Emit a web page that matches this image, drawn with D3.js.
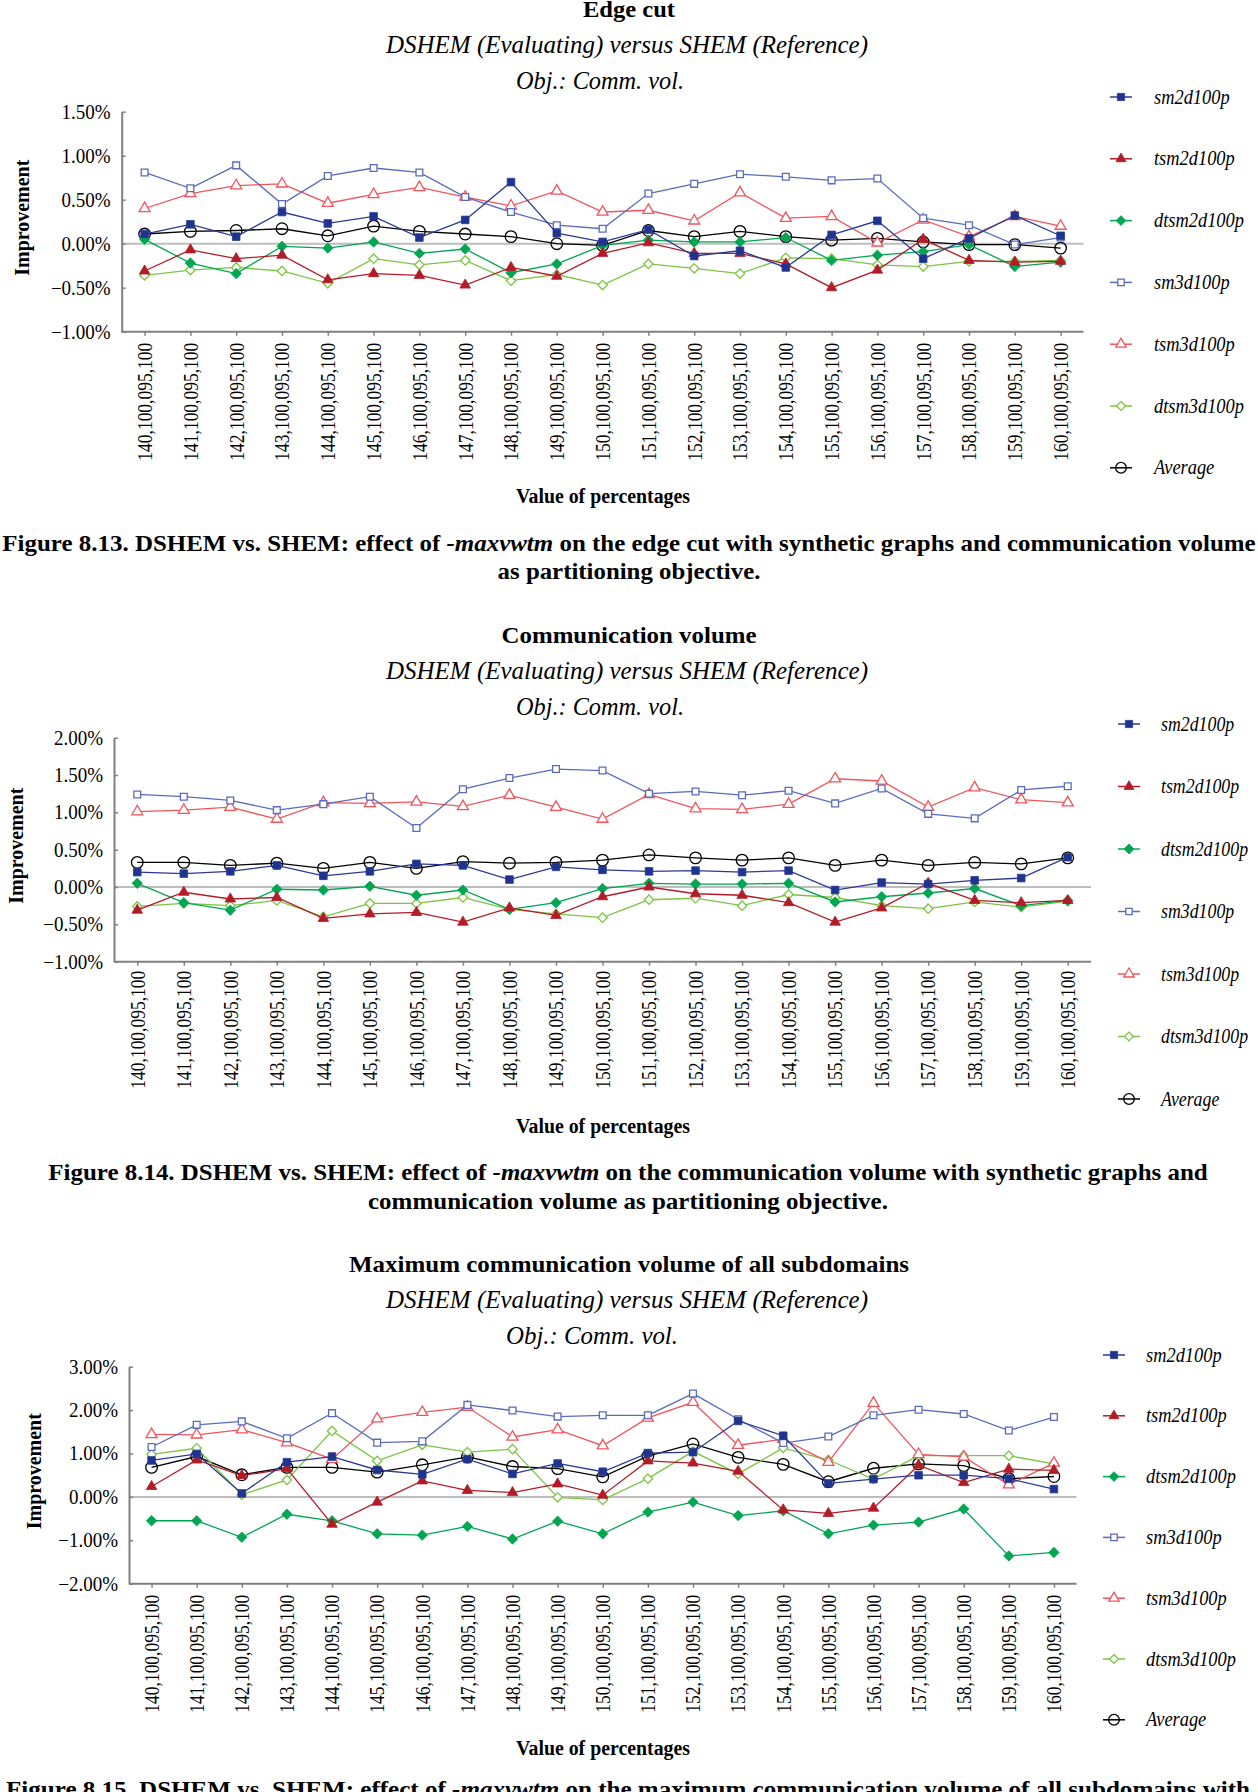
<!DOCTYPE html>
<html><head><meta charset="utf-8">
<script src="https://cdn.jsdelivr.net/npm/d3@7"></script>
<style>
body{margin:0;background:#fff}
svg{display:block}
text{font-family:"Liberation Serif","Times New Roman",serif;fill:#000}
</style>
</head><body>
<svg id="c" width="1258" height="1792"></svg>
<script>
// ---------- DATA ----------
const categories = ["140,100,095,100","141,100,095,100","142,100,095,100","143,100,095,100","144,100,095,100",
  "145,100,095,100","146,100,095,100","147,100,095,100","148,100,095,100","149,100,095,100","150,100,095,100",
  "151,100,095,100","152,100,095,100","153,100,095,100","154,100,095,100","155,100,095,100","156,100,095,100",
  "157,100,095,100","158,100,095,100","159,100,095,100","160,100,095,100"];
const seriesNames = ["sm2d100p","tsm2d100p","dtsm2d100p","sm3d100p","tsm3d100p","dtsm3d100p","Average"];

// Figure 8.13 - Edge cut (values in %)
const ec_sm2d   = [0.11,0.22,0.08,0.36,0.23,0.31,0.07,0.27,0.70,0.12,0.02,0.16,-0.14,-0.08,-0.27,0.10,0.26,-0.17,0.06,0.32,0.09];
const ec_tsm2d  = [-0.31,-0.07,-0.17,-0.13,-0.41,-0.34,-0.36,-0.47,-0.27,-0.37,-0.11,0.01,-0.11,-0.11,-0.23,-0.50,-0.30,0.05,-0.19,-0.21,-0.20];
const ec_dtsm2d = [0.05,-0.22,-0.34,-0.03,-0.05,0.02,-0.11,-0.06,-0.33,-0.23,-0.02,0.04,0.02,0.02,0.07,-0.19,-0.13,-0.09,-0.01,-0.26,-0.21];
const ec_sm3d   = [0.81,0.63,0.89,0.45,0.77,0.86,0.81,0.53,0.36,0.21,0.17,0.57,0.68,0.79,0.76,0.72,0.74,0.29,0.21,-0.01,0.07];
const ec_tsm3d  = [0.40,0.57,0.66,0.68,0.46,0.56,0.64,0.53,0.43,0.60,0.36,0.38,0.26,0.58,0.29,0.31,0.01,0.27,0.08,0.31,0.20];
const ec_dtsm3d = [-0.36,-0.30,-0.27,-0.31,-0.45,-0.17,-0.24,-0.19,-0.42,-0.35,-0.47,-0.23,-0.28,-0.34,-0.16,-0.17,-0.24,-0.26,-0.20,-0.20,-0.19];
const ec_avg    = [0.11,0.14,0.15,0.17,0.09,0.20,0.14,0.11,0.08,0.00,-0.02,0.15,0.08,0.14,0.08,0.04,0.06,0.02,-0.01,-0.01,-0.05];

// Figure 8.14 - Communication volume
const cv_sm2d   = [0.20,0.18,0.21,0.29,0.15,0.21,0.31,0.29,0.10,0.27,0.23,0.21,0.22,0.20,0.22,-0.04,0.06,0.04,0.09,0.12,0.40];
const cv_tsm2d  = [-0.31,-0.07,-0.16,-0.14,-0.42,-0.36,-0.34,-0.47,-0.28,-0.38,-0.13,0.00,-0.09,-0.11,-0.21,-0.47,-0.28,0.05,-0.18,-0.21,-0.18];
const cv_dtsm2d = [0.05,-0.21,-0.31,-0.03,-0.04,0.01,-0.11,-0.04,-0.30,-0.21,-0.02,0.05,0.04,0.04,0.05,-0.20,-0.13,-0.08,-0.02,-0.25,-0.18];
const cv_sm3d   = [1.24,1.21,1.16,1.03,1.11,1.21,0.79,1.31,1.46,1.58,1.56,1.25,1.28,1.23,1.29,1.12,1.32,0.98,0.92,1.30,1.35];
const cv_tsm3d  = [1.01,1.03,1.07,0.91,1.13,1.12,1.14,1.08,1.23,1.07,0.91,1.24,1.05,1.04,1.11,1.45,1.42,1.07,1.33,1.17,1.13];
const cv_dtsm3d = [-0.26,-0.22,-0.25,-0.18,-0.40,-0.22,-0.22,-0.14,-0.30,-0.36,-0.41,-0.17,-0.15,-0.25,-0.10,-0.14,-0.25,-0.29,-0.20,-0.27,-0.19];
const cv_avg    = [0.33,0.33,0.29,0.32,0.25,0.33,0.25,0.34,0.32,0.33,0.36,0.43,0.39,0.36,0.39,0.29,0.36,0.29,0.33,0.31,0.39];

// Figure 8.15 - Maximum communication volume of all subdomains
const mcv_sm2d   = [0.84,0.99,0.08,0.80,0.93,0.62,0.52,0.87,0.53,0.77,0.58,1.01,1.03,1.75,1.41,0.31,0.41,0.50,0.50,0.42,0.18];
const mcv_tsm2d  = [0.24,0.85,0.49,0.65,-0.63,-0.12,0.37,0.15,0.10,0.30,0.04,0.83,0.78,0.59,-0.30,-0.38,-0.26,0.73,0.33,0.64,0.61];
const mcv_dtsm2d = [-0.55,-0.55,-0.93,-0.40,-0.55,-0.85,-0.88,-0.68,-0.97,-0.56,-0.85,-0.35,-0.12,-0.43,-0.32,-0.85,-0.65,-0.58,-0.28,-1.36,-1.28];
const mcv_sm3d   = [1.15,1.66,1.74,1.35,1.93,1.25,1.28,2.12,1.99,1.85,1.88,1.88,2.38,1.79,1.24,1.39,1.88,2.01,1.91,1.53,1.84];
const mcv_tsm3d  = [1.44,1.43,1.55,1.25,0.87,1.80,1.95,2.07,1.38,1.55,1.18,1.82,2.18,1.19,1.33,0.80,2.16,0.98,0.92,0.28,0.78];
const mcv_dtsm3d = [0.98,1.12,0.05,0.39,1.52,0.83,1.20,1.03,1.10,-0.01,-0.07,0.42,1.05,0.53,1.13,0.85,0.41,0.95,0.95,0.95,0.76];
const mcv_avg    = [0.68,0.93,0.51,0.68,0.68,0.57,0.74,0.92,0.70,0.65,0.46,0.94,1.22,0.91,0.75,0.35,0.66,0.76,0.72,0.42,0.47];

const yTicks1 = [-1,-0.5,0,0.5,1,1.5];
const yTicks2 = [-1,-0.5,0,0.5,1,1.5,2];
const yTicks3 = [-2,-1,0,1,2,3];

const titles = ["Edge cut","Communication volume","Maximum communication volume of all subdomains"];
const subtitle = "DSHEM (Evaluating) versus SHEM (Reference)";
const objText = "Obj.: Comm. vol.";
const yLabel = "Improvement";
const xLabel = "Value of percentages";
const captions = [
  [[["Figure 8.13. DSHEM vs. SHEM: effect of ",0],["-maxvwtm",1],[" on the edge cut with synthetic graphs and communication volume",0]],
   [["as partitioning objective.",0]]],
  [[["Figure 8.14. DSHEM vs. SHEM: effect of ",0],["-maxvwtm",1],[" on the communication volume with synthetic graphs and",0]],
   [["communication volume as partitioning objective.",0]]],
  [[["Figure 8.15. DSHEM vs. SHEM: effect of ",0],["-maxvwtm",1],[" on the maximum communication volume of all subdomains with",0]]]
];

// ---------- STYLE / LAYOUT ----------
const seriesStyle = [
  {color:"#2A3A92", fill:"#1E348F", sym:"square", size:58},
  {color:"#B31B27", fill:"#B31B27", sym:"triangle", size:48},
  {color:"#00A651", fill:"#00A651", sym:"diamond", size:54},
  {color:"#5A6BBD", fill:"#fff", sym:"square", size:46},
  {color:"#F2545C", fill:"#fff", sym:"triangle", size:52},
  {color:"#7CC443", fill:"#fff", sym:"diamond", size:44},
  {color:"#000000", fill:"none", sym:"circle", size:105}
];

const panels = [
  {data:[ec_sm2d,ec_tsm2d,ec_dtsm2d,ec_sm3d,ec_tsm3d,ec_dtsm3d,ec_avg], yDomain:[-1,1.5], yTicks:yTicks1,
   left:121.7, right:1083.5, top:111.7, bottom:331.7, titleW:92, objCx:600, objW:168,
   legX:1121, legTextX:1154, legY0:97, legDy:61.8, legF:0.92, impX:22, xLabOff:11,
   capY:[551,579], capW:[1254,263], capCx:629},
  {data:[cv_sm2d,cv_tsm2d,cv_dtsm2d,cv_sm3d,cv_tsm3d,cv_dtsm3d,cv_avg], yDomain:[-1,2], yTicks:yTicks2,
   left:114, right:1091, top:737.7, bottom:961.7, titleW:255, objCx:600, objW:168,
   legX:1129, legTextX:1161, legY0:724, legDy:62.5, legF:0.89, impX:16, xLabOff:9,
   capY:[1180,1209], capW:[1161,520], capCx:628},
  {data:[mcv_sm2d,mcv_tsm2d,mcv_dtsm2d,mcv_sm3d,mcv_tsm3d,mcv_dtsm3d,mcv_avg], yDomain:[-2,3], yTicks:yTicks3,
   left:129, right:1076.5, top:1366.7, bottom:1583.7, titleW:560, objCx:592, objW:172,
   legX:1114, legTextX:1146, legY0:1355, legDy:60.8, legF:0.92, impX:34, xLabOff:11,
   capY:[1797], capW:[1245], capCx:628}
];

const svg = d3.select("#c");

const diamondType = {draw(ctx, size){ const r = Math.sqrt(size/2); ctx.moveTo(0,-r); ctx.lineTo(r,0); ctx.lineTo(0,r); ctx.lineTo(-r,0); ctx.closePath(); }};
const symTypes = {square:d3.symbolSquare, triangle:d3.symbolTriangle, diamond:diamondType, circle:d3.symbolCircle};

function condense(sel, f){
  sel.each(function(){ const w = this.getComputedTextLength(); d3.select(this).attr("textLength", w*f).attr("lengthAdjust","spacingAndGlyphs"); });
}
function fitTo(sel, target){
  sel.each(function(){ d3.select(this).attr("textLength", target).attr("lengthAdjust","spacingAndGlyphs"); });
}
function scaleTo(sel, target, cx){
  sel.each(function(){ const w = this.getBBox().width; const s = target / w;
    d3.select(this).attr("transform", `translate(${cx},0) scale(${s},1) translate(${-cx},0)`); });
}
const fmt = d => (d < 0 ? "\u2212" : "") + Math.abs(d).toFixed(2) + "%";

function drawMarker(g, st, x, y, sizeScale){
  g.append("path")
    .attr("transform", `translate(${x},${y})`)
    .attr("d", d3.symbol().type(symTypes[st.sym]).size(st.size*(sizeScale||1))())
    .attr("fill", st.fill)
    .attr("stroke", st.color)
    .attr("stroke-width", st.fill === "#fff" || st.fill === "none" ? 1.3 : 0.8);
}

panels.forEach((p, pi) => {
  const g = svg.append("g");
  const x = d3.scalePoint().domain(categories).range([p.left, p.right]).padding(0.5);
  const y = d3.scaleLinear().domain(p.yDomain).range([p.bottom, p.top]);
  const midY = (p.top + p.bottom) / 2;

  // titles
  g.append("text").attr("x", 629).attr("y", p.top - 95).attr("text-anchor","middle")
    .attr("font-weight","bold").attr("font-size", 24).text(titles[pi]).call(fitTo, p.titleW);
  g.append("text").attr("x", 627).attr("y", p.top - 59).attr("text-anchor","middle")
    .attr("font-style","italic").attr("font-size", 25).text(subtitle).call(fitTo, 482);
  g.append("text").attr("x", p.objCx).attr("y", p.top - 23).attr("text-anchor","middle")
    .attr("font-style","italic").attr("font-size", 25).text(objText).call(fitTo, p.objW);

  // zero line
  g.append("line").attr("x1", p.left).attr("x2", p.right).attr("y1", y(0)).attr("y2", y(0))
    .attr("stroke", "#BDBDBD").attr("stroke-width", 2);

  // y axis
  const ya = g.append("g").attr("transform", `translate(${p.left},0)`)
    .call(d3.axisLeft(y).tickValues(p.yTicks).tickFormat(fmt).tickSize(-4).tickSizeOuter(0).tickPadding(11));
  ya.select(".domain").attr("stroke","#808080").attr("stroke-width",2);
  ya.selectAll(".tick line").attr("stroke","#808080").attr("stroke-width",1.5);
  ya.selectAll(".tick text").attr("font-size",20).attr("font-family","Liberation Serif").attr("fill","#000").call(condense, 0.95);

  // x axis
  const xa = g.append("g").attr("transform", `translate(0,${p.bottom})`)
    .call(d3.axisBottom(x).tickSize(4).tickSizeOuter(0));
  xa.select(".domain").attr("stroke","#808080").attr("stroke-width",2)
    .attr("d", `M${p.left},0H${p.right}`);
  xa.selectAll(".tick line").attr("stroke","#808080").attr("stroke-width",1.5);
  xa.selectAll(".tick text")
    .attr("font-size",20).attr("font-family","Liberation Serif").attr("fill","#000")
    .attr("text-anchor","end").attr("transform", `translate(0,${p.xLabOff}) rotate(-90)`)
    .attr("x",0).attr("y",0).attr("dy","0.34em")
    .call(fitTo, 118);

  // axis titles
  g.append("text").attr("transform", `translate(${p.impX},${midY - 4}) rotate(-90)`)
    .attr("text-anchor","middle").attr("dy","0.35em").attr("font-weight","bold").attr("font-size",20)
    .text(yLabel).call(fitTo, 116);
  g.append("text").attr("x", 603).attr("y", p.bottom + 171).attr("text-anchor","middle")
    .attr("font-weight","bold").attr("font-size",20).text(xLabel).call(fitTo, 174);

  // series (drawn in reverse so first series sits on top)
  const line = d3.line().x((d,i) => x(categories[i])).y(d => y(d));
  for (let si = p.data.length - 1; si >= 0; si--) {
    const st = seriesStyle[si];
    const vals = p.data[si];
    const sg = g.append("g");
    sg.append("path").attr("d", line(vals)).attr("fill","none").attr("stroke", st.color).attr("stroke-width", 1.3);
    vals.forEach((v,i) => drawMarker(sg, st, x(categories[i]), y(v)));
  }

  // legend
  seriesNames.forEach((name, si) => {
    const st = seriesStyle[si];
    const ly = p.legY0 + si * p.legDy;
    const lg = g.append("g");
    lg.append("line").attr("x1", p.legX - 11).attr("x2", p.legX + 11).attr("y1", ly).attr("y2", ly)
      .attr("stroke", st.color).attr("stroke-width", 1.5);
    drawMarker(lg, st, p.legX, ly, st.sym === "circle" ? 0.85 : 0.9);
    lg.append("text").attr("x", p.legTextX).attr("y", ly).attr("dy","0.33em")
      .attr("font-style","italic").attr("font-size",20).text(name).call(condense, p.legF);
  });

  // caption
  captions[pi].forEach((lineSegs, li) => {
    const t = g.append("text").attr("x", p.capCx).attr("y", p.capY[li]).attr("text-anchor","middle")
      .attr("font-weight","bold").attr("font-size",24);
    lineSegs.forEach(([s, it]) => { const ts = t.append("tspan").text(s); if (it) ts.attr("font-style","italic"); });
    t.call(scaleTo, p.capW[li], p.capCx);
  });
});
</script>
</body></html>
